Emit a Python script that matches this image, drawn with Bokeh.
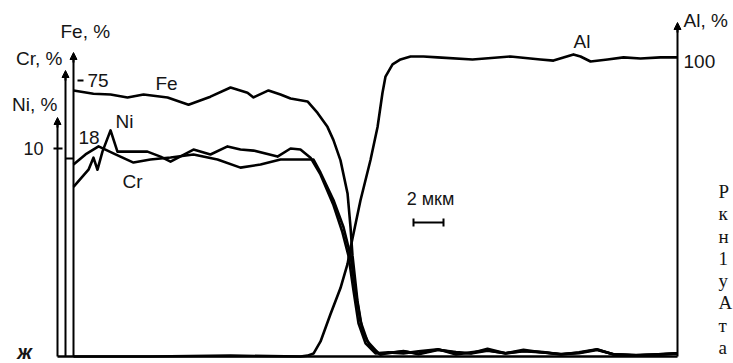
from bokeh.plotting import figure
from bokeh.models import (Range1d, LinearAxis, FixedTicker, Label, Arrow,
                          NormalHead, TeeHead)
from bokeh.embed import file_html
from bokeh.resources import INLINE

# ---------------- data: distance along scan line (µm), concentration (%) ----
FE_X = [0.0, 1.33, 2.47, 3.6, 4.67, 6.27, 7.67, 9.13, 10.47, 11.6, 12.0, 13.0,
        13.8, 14.47, 15.6, 16.27, 16.93, 17.33, 17.8, 18.27, 18.47, 18.6,
        18.93, 19.27, 19.8, 20.47]
FE_Y = [72.3, 71.4, 71.2, 70.4, 71.2, 70.4, 68.4, 70.6, 73.1, 71.7, 70.4, 72.3,
        71.2, 70.1, 69.3, 66.2, 62.4, 58.8, 53.3, 44.3, 35.0, 27.4,
        15.1, 6.8, 2.7, 0.5]
CR_X = [0.0, 0.8, 1.67, 2.8, 4.0, 5.13, 6.47, 8.0, 9.6, 11.13, 12.47, 13.8,
        16.0, 16.47, 17.33, 18.0, 18.47, 18.8, 19.13, 19.6, 20.33]
CR_Y = [17.45, 18.37, 19.10, 18.37, 17.63, 17.91, 18.09, 18.37, 17.91, 17.17,
        17.45, 17.91, 17.91, 16.71, 14.23, 11.75, 9.18, 5.97, 3.21, 1.38, 0.28]
NI_X = [0.0, 1.0, 1.33, 1.6, 1.93, 2.47, 2.93, 4.0, 4.93, 5.8, 6.47, 8.0, 9.13,
        10.27, 11.13, 12.0, 13.6, 14.47, 15.13, 15.8, 16.47, 17.33, 17.93,
        18.33, 18.67, 19.0, 19.47, 20.13]
NI_Y = [8.16, 8.98, 9.56, 8.98, 9.85, 10.87, 9.85, 9.85, 9.85, 9.61, 9.37, 9.95,
        9.71, 10.10, 9.95, 9.90, 9.61, 10.0, 9.95, 9.56, 8.74, 7.28, 5.97,
        4.85, 3.16, 1.60, 0.63, 0.15]
TAIL_X = [21.0, 22.0, 23.0, 24.3, 25.5, 26.5, 27.6, 28.8, 30.0, 31.3, 32.5,
          33.7, 34.9, 36.0, 37.5, 39.0, 40.27]
FE_TAIL = [1.0, 1.4, 0.8, 1.9, 1.0, 0.8, 1.6, 0.9, 1.8, 1.1, 0.7, 1.0, 1.9,
           0.6, 0.4, 0.5, 0.8]
CR_TAIL = [0.3, 0.5, 0.2, 0.6, 0.4, 0.3, 0.7, 0.3, 0.5, 0.4, 0.2, 0.3, 0.6,
           0.2, 0.1, 0.2, 0.3]
NI_TAIL = [0.2, 0.15, 0.25, 0.35, 0.1, 0.2, 0.3, 0.15, 0.25, 0.2, 0.1, 0.2,
           0.35, 0.1, 0.05, 0.1, 0.15]
AL_X = [0.0, 5.13, 10.47, 15.13, 15.6, 16.0, 16.47, 17.13, 17.8, 18.27,
        18.47, 19.13, 19.8, 20.27, 20.6, 20.8, 21.27, 21.8, 22.47, 23.33,
        24.27, 26.6, 29.13, 31.13, 32.0, 33.33, 33.8, 34.47, 35.6, 36.67,
        37.8, 39.13, 40.27]
AL_Y = [0.0, 0.0, 0.3, 0.0, 0.3, 1.0, 5.1, 14.3, 23.2, 31.4,
        36.9, 52.9, 66.6, 77.8, 89.4, 94.9, 99.0, 100.7, 101.7, 101.7,
        101.4, 100.7, 101.7, 100.7, 100.3, 102.4, 101.7, 100.0, 100.7, 101.4,
        101.0, 101.4, 101.4]

TICKS = {"fe": 75, "cr": 18, "ni": 10, "al": 100}
SCALE_BAR_UM = 2

# ---------------- layout (page-pixel geometry) ------------------------------
W, H = 733, 363
X_ZERO = 73               # page x of 0 µm
PX_PER_UM = 15.0
BASE = 356                # page y of 0 %
TICK_Y = {"fe": 80, "cr": 158, "ni": 148, "al": 61}
AXIS_X = {"ni": 57, "cr": 65, "fe": 73, "al": 677}
AXIS_TOP = {"ni": 117, "cr": 70, "fe": 52, "al": 22}

INK = "#000000"
TXT = "#151515"
SANS = "Liberation Sans"
SERIF = "Liberation Serif"


def ux(px):
    return (px - X_ZERO) / PX_PER_UM


def ppu(name):
    return (BASE - TICK_Y[name]) / TICKS[name]


def vrange(name):
    k = ppu(name)
    return Range1d(-(H - BASE) / k, BASE / k)


def uy(name, py):
    return (BASE - py) / ppu(name)


p = figure(width=W, height=H, output_backend="svg", toolbar_location=None,
           x_range=Range1d(ux(0), ux(W)), y_range=vrange("fe"),
           x_axis_type=None, y_axis_type=None, min_border=0,
           outline_line_color=None, background_fill_color="white",
           border_fill_color="white")
p.extra_y_ranges = {"cr": vrange("cr"), "ni": vrange("ni"),
                    "al": vrange("al"), "px": Range1d(H, 0)}
p.extra_x_ranges = {"px": Range1d(0, W)}

# ---------------- curves -------------------------------------------------
lk = dict(line_color=INK, line_width=2.6, line_join="round")
p.line(AL_X, AL_Y, y_range_name="al", **lk)
p.line(FE_X + TAIL_X, FE_Y + FE_TAIL, **lk)
p.line(CR_X + TAIL_X, CR_Y + CR_TAIL, y_range_name="cr", **lk)
p.line(NI_X + TAIL_X, NI_Y + NI_TAIL, y_range_name="ni", **lk)

# ---------------- axes ---------------------------------------------------
xax = LinearAxis(fixed_location=0, ticker=FixedTicker(ticks=[]),
                 bounds=(ux(AXIS_X["ni"]), ux(AXIS_X["al"])),
                 axis_line_color=INK, axis_line_width=2.5,
                 major_tick_line_color=None, minor_tick_line_color=None,
                 major_label_text_color=None)
p.add_layout(xax, "below")


def vaxis(name, side, tin, tout, standoff, fsize, show_label=True):
    rn = "default" if name == "fe" else name
    top = uy(name, AXIS_TOP[name])
    ax = LinearAxis(y_range_name=rn, fixed_location=ux(AXIS_X[name]),
                    ticker=FixedTicker(ticks=[TICKS[name]]),
                    bounds=(0, uy(name, AXIS_TOP[name] + 4)),
                    axis_line_color=INK, axis_line_width=2,
                    major_tick_line_color=INK, major_tick_line_width=2,
                    major_tick_in=tin, major_tick_out=tout,
                    minor_tick_line_color=None,
                    major_label_standoff=standoff,
                    major_label_text_font=SANS,
                    major_label_text_font_size=fsize,
                    major_label_text_color=TXT if show_label else None)
    p.add_layout(ax, side)
    p.add_layout(Arrow(x_start=ux(AXIS_X[name]), y_start=uy(name, AXIS_TOP[name] + 10),
                       x_end=ux(AXIS_X[name]), y_end=top, y_range_name=rn,
                       line_color=INK, line_width=2,
                       end=NormalHead(size=7, fill_color=INK, line_color=INK,
                                      line_width=1)))


vaxis("ni", "left", 5, 4, 10, "18px")
vaxis("cr", "right", 0, 8, 0, "19px", show_label=False)
vaxis("fe", "right", -4, 10, 4, "19px")
vaxis("al", "right", 0, 0, 6, "19px")

# scale bar (2 µm)
p.add_layout(Arrow(x_start=ux(413), y_start=222,
                   x_end=ux(413) + SCALE_BAR_UM, y_end=222,
                   y_range_name="px", line_color=INK, line_width=2,
                   start=TeeHead(size=8, line_color=INK, line_width=2),
                   end=TeeHead(size=8, line_color=INK, line_width=2)))

# ---------------- texts --------------------------------------------------
TEXTS = [
    ("Fe, %", 60, 31, "left", "middle", 19, SANS, "normal"),
    ("Cr, %", 62, 58, "right", "middle", 19, SANS, "normal"),
    ("Ni, %", 57, 104, "right", "middle", 19, SANS, "normal"),
    ("Al, %", 683, 20, "left", "middle", 19, SANS, "normal"),
    ("Fe", 155, 83, "left", "middle", 19, SANS, "normal"),
    ("Ni", 115, 121, "left", "middle", 19, SANS, "normal"),
    ("Cr", 122, 181, "left", "middle", 19, SANS, "normal"),
    ("Al", 573, 41, "left", "middle", 19, SANS, "normal"),
    ("18", 78, 137, "left", "middle", 19, SANS, "normal"),
    ("2 мкм", 430, 198, "center", "middle", 18, SANS, "normal"),
    ("ж", 24, 351, "center", "middle", 20, SANS, "bold italic"),
]
SIDE = ["Р", "к", "н", "1", "у", "А", "т", "а"]
SIDE_Y = [191, 213, 236, 258, 280, 302, 325, 347]
for ch, yy in zip(SIDE, SIDE_Y):
    TEXTS.append((ch, 718, yy, "left", "alphabetic", 19, SERIF, "normal"))

for t, x, y, al, bl, fs, font, style in TEXTS:
    p.add_layout(Label(x=x, y=y, x_range_name="px", y_range_name="px",
                       text=t, text_align=al, text_baseline=bl,
                       text_font=font, text_font_size=f"{fs}px",
                       text_font_style=style, text_color=TXT))

open("out.html", "w").write(file_html(p, INLINE))
